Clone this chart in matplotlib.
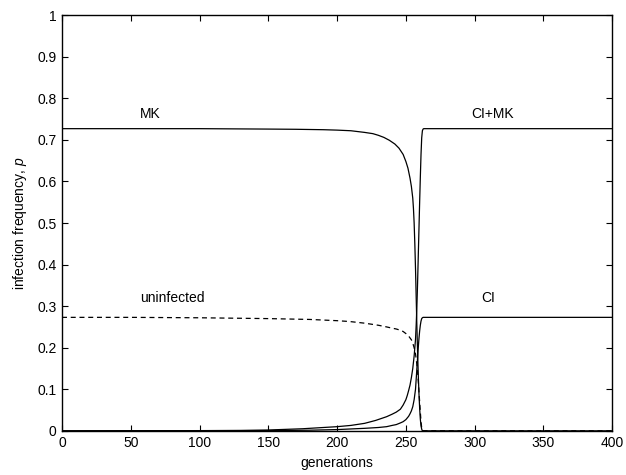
import matplotlib
matplotlib.use("Agg")
import matplotlib.pyplot as plt

plt.rcParams['font.family'] = ['Liberation Sans', 'DejaVu Sans']
plt.rcParams['mathtext.fontset'] = 'custom'
plt.rcParams['mathtext.it'] = 'Liberation Sans:italic'
plt.rcParams['mathtext.rm'] = 'Liberation Sans'

# MK (solid, declining)
mk_gen = [0, 50, 100, 150, 170, 180, 190, 200, 210, 220, 226, 230, 234, 238, 242, 245, 248, 250, 251.5, 253, 254, 255, 255.5, 256,
          256.5, 257, 257.5, 258, 258.5, 259, 259.5, 260, 260.5, 261, 261.5, 262, 400]
mk_val = [0.727, 0.727, 0.727, 0.726, 0.7255, 0.725, 0.7245, 0.7235, 0.722, 0.718, 0.715, 0.711, 0.706, 0.699, 0.690, 0.680, 0.665, 0.648,
          0.632, 0.608, 0.588, 0.560, 0.535, 0.50, 0.45, 0.39, 0.32, 0.25, 0.19, 0.135, 0.09, 0.055, 0.028, 0.012, 0.004, 0.0, 0.0]

# uninfected (dashed, declining)
un_gen = [0, 50, 100, 150, 180, 200, 209, 220, 230, 236, 240, 243, 246, 248, 250, 252, 254, 255, 256, 257, 258, 258.5, 259, 259.5,
          260, 260.5, 261, 261.5, 262, 400]
un_val = [0.273, 0.273, 0.272, 0.270, 0.268, 0.265, 0.263, 0.259, 0.254, 0.250, 0.247, 0.245, 0.242, 0.239, 0.234, 0.228, 0.219, 0.211,
          0.200, 0.185, 0.16, 0.142, 0.12, 0.095, 0.07, 0.045, 0.022, 0.007, 0.0, 0.0]

# CI+MK (solid, rising to high plateau)
cimk_gen = [0, 100, 130, 150, 175, 200, 210, 220, 228, 236, 240, 243, 246, 248, 250, 251, 252, 253, 254, 255, 256, 257, 257.5, 258,
            258.5, 259, 259.5, 260, 260.5, 261, 261.5, 262, 262.5, 263, 400]
cimk_val = [0.0, 0.0005, 0.001, 0.002, 0.005, 0.010, 0.013, 0.018, 0.025, 0.034, 0.040, 0.045, 0.052, 0.062, 0.075, 0.085, 0.097, 0.11,
            0.128, 0.15, 0.18, 0.22, 0.255, 0.30, 0.355, 0.42, 0.485, 0.55, 0.61, 0.665, 0.705, 0.722, 0.726, 0.727, 0.727]

# CI (solid, rising to low plateau)
ci_gen = [0, 150, 180, 200, 220, 230, 236, 240, 243, 246, 248, 250, 252, 253, 254, 255, 256, 257, 257.5, 258, 258.5, 259, 259.5,
          260, 260.5, 261, 261.5, 262, 262.5, 400]
ci_val = [0.0, 0.0005, 0.0015, 0.003, 0.006, 0.008, 0.010, 0.013, 0.015, 0.019, 0.022, 0.027, 0.035, 0.041, 0.048, 0.058, 0.075, 0.10,
          0.125, 0.15, 0.175, 0.20, 0.222, 0.24, 0.254, 0.264, 0.270, 0.272, 0.273, 0.273]

xticks = [0, 50, 100, 150, 200, 250, 300, 350, 400]
yticks = [0, 0.1, 0.2, 0.3, 0.4, 0.5, 0.6, 0.7, 0.8, 0.9, 1]
ytick_labels = ['0', '0.1', '0.2', '0.3', '0.4', '0.5', '0.6', '0.7', '0.8', '0.9', '1']

fig = plt.figure(figsize=(6.26, 4.75), dpi=100)
ax = fig.add_axes([0.099, 0.093, 0.879, 0.875])

lw = 0.9
ax.plot(mk_gen, mk_val, color='black', lw=lw)
ax.plot(un_gen, un_val, color='black', lw=lw, linestyle=(0, (4, 3)))
ax.plot(cimk_gen, cimk_val, color='black', lw=lw)
ax.plot(ci_gen, ci_val, color='black', lw=lw)

ax.text(64, 0.763, 'MK', ha='center', va='center', fontsize=10)
ax.text(313, 0.763, 'CI+MK', ha='center', va='center', fontsize=10)
ax.text(80, 0.319, 'uninfected', ha='center', va='center', fontsize=10)
ax.text(310, 0.319, 'CI', ha='center', va='center', fontsize=10)

ax.set_xlim(0, 400)
ax.set_ylim(0, 1)
ax.set_xticks(xticks)
ax.set_yticks(yticks)
ax.set_yticklabels(ytick_labels)
ax.tick_params(direction='in', top=True, right=True, length=4, width=0.8, labelsize=10, pad=4)
for s in ax.spines.values():
    s.set_linewidth(1.0)

ax.set_xlabel('generations', fontsize=10, labelpad=4)
ax.set_ylabel('infection frequency, $p$', fontsize=10, labelpad=6)

fig.savefig('out.png', dpi=100)
